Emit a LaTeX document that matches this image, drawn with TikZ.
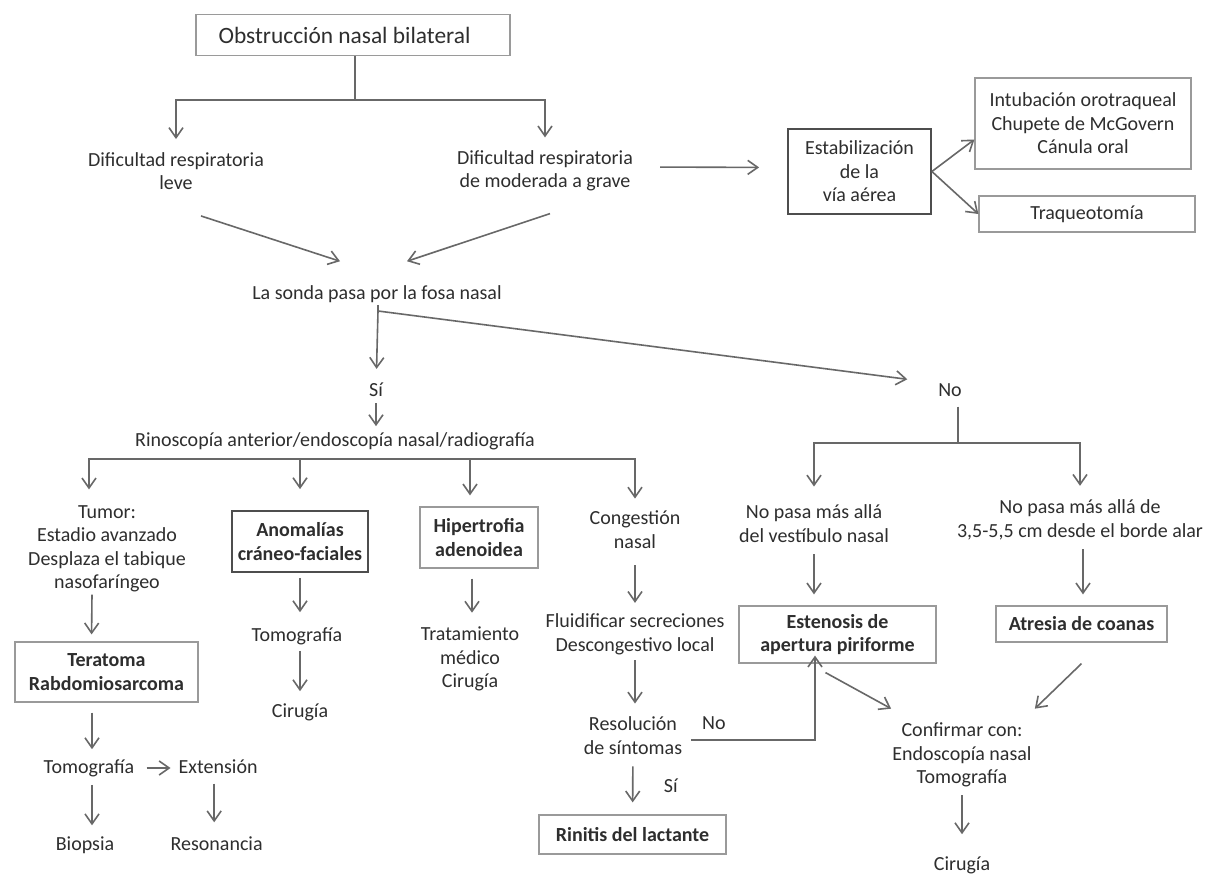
\documentclass[tikz,border=0pt]{standalone}
\usepackage{fontspec}
\setmainfont{Carlito}
\usepackage{xcolor}
\usepackage{tikz}
\usetikzlibrary{arrows.meta}
\usetikzlibrary{positioning}
\definecolor{lnclr}{HTML}{686868}
\definecolor{bxclr}{HTML}{9A9A9A}
\definecolor{dkclr}{HTML}{4E4E4E}
\definecolor{txclr}{HTML}{2E2E2E}
\newcommand{\dfont}{\fontsize{20}{23.5}\selectfont}
\tikzstyle{box} = [rectangle, draw=bxclr, line width=1.2pt,
    align=center, inner sep=2pt, text=txclr]
\tikzstyle{darkbox} = [box, draw=dkclr, line width=1.8pt]
\tikzstyle{txt} = [align=center, inner sep=2pt, text=txclr]
\tikzstyle{line} = [draw=lnclr, line width=1.6pt, -{Straight Barb[length=10pt,width=14pt]}]
\tikzstyle{plain} = [draw=lnclr, line width=1.6pt]
\begin{document}
\begin{tikzpicture}[x=1pt, y=-1pt, font=\dfont]
    \path [use as bounding box, fill=white] (0,0) rectangle (1216,875);
    % Place nodes
    \node [box, minimum width=314pt, minimum height=41pt, font=\fontsize{23.4}{28}\selectfont] (obstr) at (353,35) {Obstrucción nasal bilateral\hspace*{17pt}};
    \node [txt] (leve) at (176,171) {Dificultad respiratoria\\leve};
    \node [txt] (grave) at (545,171) {Dificultad respiratoria\\de moderada a grave};
    \node [darkbox, minimum width=143pt, minimum height=85pt] (estab) at (859.5,171.5) {Estabilización\\de la\\vía aérea};
    \node [box, minimum width=216pt, minimum height=91pt] (intub) at (1083,123.5) {Intubación orotraqueal\\Chupete de McGovern\\Cánula oral};
    \node [box, minimum width=216pt, minimum height=36pt] (traq) at (1087,214) {Traqueotomía};
    \node [txt] (sonda) at (377,294) {La sonda pasa por la fosa nasal};
    \node [txt] (si) at (376,390) {Sí};
    \node [txt] (no) at (950,390) {No};
    \node [txt] (rino) at (335,441) {Rinoscopía anterior/endoscopía nasal/radiografía};

    \node [txt] (tumor) at (107,549) {Tumor:\\Estadio avanzado\\Desplaza el tabique\\nasofaríngeo};
    \node [box, font=\dfont\bfseries, minimum width=183pt, minimum height=60pt] (terat) at (106.5,672) {Teratoma\\Rabdomiosarcoma};
    \node [txt] (tomoa) at (89,768) {Tomografía};
    \node [txt, base right=40pt of tomoa] (ext) {Extensión};
    \node [txt] (biop) at (85,845) {Biopsia};
    \node [txt, base right=52pt of biop] (reson) {Resonancia};

    \node [darkbox, font=\dfont\bfseries, minimum width=136pt, minimum height=61pt] (anom) at (300,541.5) {Anomalías\\cráneo-faciales};
    \node [txt] (tomob) at (297,636) {Tomografía};
    \node [txt] (cirua) at (300,712) {Cirugía};

    \node [box, font=\dfont\bfseries, minimum width=118pt, minimum height=61pt] (hiper) at (479,537.5) {Hipertrofia\\adenoidea};
    \node [txt] (trat) at (470,659) {Tratamiento\\médico\\Cirugía};

    \node [txt] (cong) at (635,529.5) {Congestión\\nasal};
    \node [txt] (fluid) at (635,634.5) {Fluidificar secreciones\\Descongestivo local};
    \node [txt] (resol) at (633,735.5) {Resolución\\de síntomas};
    \node [box, font=\dfont\bfseries, minimum width=187pt, minimum height=39pt] (rinit) at (632.5,834.5) {Rinitis del lactante};

    \node [txt] (vest) at (814,523.5) {No pasa más allá\\del vestíbulo nasal};
    \node [txt] (alar) at (1080,520) {No pasa más allá de\\3,5-5,5 cm desde el borde alar};
    \node [box, font=\dfont\bfseries, minimum width=197pt, minimum height=57pt] (esten) at (837.5,634.5) {Estenosis de\\apertura piriforme};
    \node [box, font=\dfont\bfseries, minimum width=171pt, minimum height=36pt] (atres) at (1081.5,624) {Atresia de coanas};
    \node [txt] (conf) at (962,755) {Confirmar con:\\Endoscopía nasal\\Tomografía};
    \node [txt] (cirub) at (962,865) {Cirugía};

    \coordinate (fork1) at (355,100);
    \coordinate (fork2) at (378,311);
    \coordinate (bar) at (376,459);
    \coordinate (fork3) at (958,443);

    % Top part
    \path [plain] (obstr.south -| fork1) -- (fork1);
    \path [line, shorten >=11pt] (fork1) -| (leve);
    \path [line, shorten >=11pt] (fork1) -| (grave);
    \path [line] ([shift={(25,24)}]leve.south) -- ([shift={(-37,-22)}]sonda.north);
    \path [line] ([shift={(5,20)}]grave.south) -- ([shift={(30,-22)}]sonda.north);
    \path [line, shorten <=25pt, shorten >=28pt] ([yshift=4pt]grave.east) -- ([yshift=4pt]estab.west);
    \path [line] (estab.east) -- ([yshift=-16pt]intub.west);
    \path [line] (estab.east) -- (traq.west);

    % Si / No
    \path [plain] (sonda.south -| fork2) -- (fork2);
    \path [line, shorten >=12pt] (fork2) -- (si);
    \path [line, shorten >=29pt] (fork2) -- ([yshift=7pt]no.west);
    \path [line, shorten <=4pt, shorten >=4pt] (si) -- (si |- rino.north);
    \path [line, shorten >=14pt] (bar) -| ([xshift=-18pt]tumor.north);
    \path [line, shorten >=21pt] (bar) -| (anom);
    \path [line, shorten >=11pt] (bar) -| ([xshift=-9pt]hiper.north);
    \path [line, shorten >=10pt] (bar) -| (cong);

    % Left columns
    \path [line, shorten >=7pt] ([xshift=-15pt]tumor.south) -- ([xshift=-15pt]terat.north);
    \path [line, shorten <=10pt, shorten >=8pt] ([xshift=-14.5pt]terat.south) -- ([xshift=3pt]tomoa.north);
    \path [line, shorten <=10pt, shorten >=6pt] (tomoa.east) -- (tomoa.east -| ext.west);
    \path [line, shorten <=6pt, shorten >=9pt] ([xshift=3pt]tomoa.south) -- ([xshift=3pt]tomoa.south |- biop.north);
    \path [line, shorten <=8pt, shorten >=12pt] ([xshift=-4pt]ext.south) -- ([xshift=-4pt]ext.south |- reson.north);
    \path [line, shorten <=5pt, shorten >=13pt] (anom.south) -- (anom.south |- tomob.north);
    \path [line, shorten <=4pt, shorten >=10pt] (tomob.south -| anom.south) -- (anom.south |- cirua.north);
    \path [line, shorten <=10pt, shorten >=12pt] ([xshift=-7pt]hiper.south) -- ([xshift=-7pt]hiper.south |- trat.north);

    % Congestion
    \path [line, shorten <=15pt, shorten >=9pt] (cong) -- (fluid);
    \path [line, shorten <=3pt, shorten >=11pt] (fluid) -- (fluid |- resol.north);
    \path [line, shorten <=10pt, shorten >=12pt] (resol) -- node [txt, xshift=38pt] (lblsi) {Sí} (rinit);
    \path [line, shorten <=7pt, shorten >=-8pt] ([yshift=-4.5pt]resol.east) -| node [txt, pos=0.113, yshift=17pt] (lblno) {No} ([xshift=-22.5pt]esten.south);

    % No branch
    \path [plain, shorten <=8pt] (no.south -| fork3) -- (fork3);
    \path [line, shorten >=16pt] (fork3) -| (vest);
    \path [line, shorten >=12pt] (fork3) -| (alar);
    \path [line, shorten <=10pt, shorten >=11pt] (vest.south) -- (vest.south |- esten.north);
    \path [line, shorten <=7pt, shorten >=11pt] ([xshift=3pt]alar.south) -- ([xshift=3pt]alar.south |- atres.north);
    \path [line] ([shift={(-12,9)}]esten.south) -- ([shift={(1,-12)}]conf.north west);
    \path [line] ([shift={(0,21)}]atres.south) -- ([shift={(1,-12)}]conf.north east);
    \path [line, shorten <=6pt, shorten >=20pt] (conf) -- (cirub);

\end{tikzpicture}
\end{document}
